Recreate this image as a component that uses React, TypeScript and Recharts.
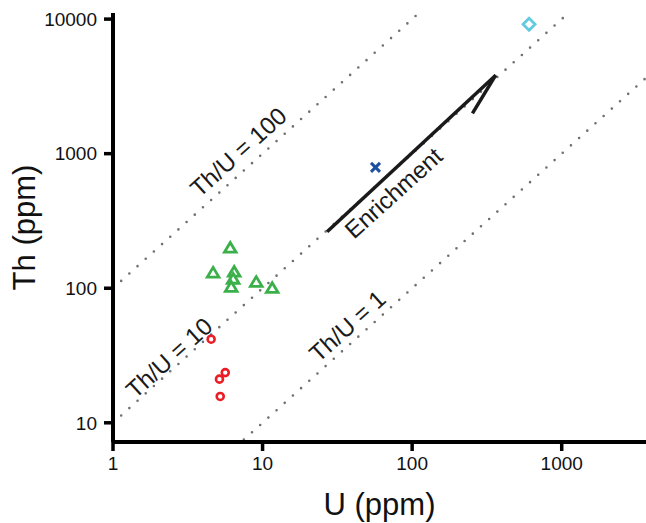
import {
  Label,
  ReferenceDot,
  ReferenceLine,
  Scatter,
  ScatterChart,
  XAxis,
  YAxis,
} from "recharts";

const FONT = "'Liberation Sans', Arial, Helvetica, sans-serif";

// axis setup
const uDomain = [1, 3660];
const thDomain = [7.2, 11100];
const uTicks = [1, 10, 100, 1000];
const thTicks = [10, 100, 1000, 10000];

// samples
const redU = [4.53, 5.63, 5.15, 5.21];
const redTh = [41.8, 23.6, 21.1, 15.7];
const greenU = [6.08, 4.67, 6.46, 6.36, 6.17, 9.07, 11.6];
const greenTh = [199, 130, 132, 117, 102, 111, 100];
const blueU = [56.9];
const blueTh = [791];
const cyanU = [605];
const cyanTh = [9160];

// Th/U ratio guide lines
const ratios = [100, 10, 1];

// enrichment arrow: start, tip, barb
const arrowU = [27, 362, 253];
const arrowTh = [263, 3830, 1990];

// annotations along the guides
const noteText = ["Th/U = 100", "Th/U = 10", "Th/U = 1", "Enrichment"];
const noteU = [6.88, 2.37, 36.9, 75];
const noteTh = [1028, 30.4, 52.5, 511];

const toPoints = (us: number[], ths: number[]) =>
  us.map((u, i) => ({ u, th: ths[i] }));

const circle = (p: any) => (
  <circle cx={p.cx} cy={p.cy} r={3.5} fill="#fff" stroke="#ec1c24" strokeWidth={2.6} />
);

const triangle = (p: any) => {
  const { cx, cy } = p;
  return (
    <polygon
      points={`${cx},${cy - 5.5} ${cx + 5.8},${cy + 4.2} ${cx - 5.8},${cy + 4.2}`}
      fill="#fff"
      stroke="#3bb04a"
      strokeWidth={2.8}
    />
  );
};

const cross = (p: any) => {
  const { cx, cy } = p;
  const s = 4.5;
  return (
    <g stroke="#1f4fa0" strokeWidth={3}>
      <line x1={cx - s} y1={cy - s} x2={cx + s} y2={cy + s} />
      <line x1={cx - s} y1={cy + s} x2={cx + s} y2={cy - s} />
    </g>
  );
};

const diamond = (p: any) => {
  const { cx, cy } = p;
  const s = 6;
  return (
    <polygon
      points={`${cx},${cy - s} ${cx + s},${cy} ${cx},${cy + s} ${cx - s},${cy}`}
      fill="#fff"
      stroke="#62cbe0"
      strokeWidth={2.8}
    />
  );
};

const note = (text: string) => (p: any) => (
  <text
    x={p.cx}
    y={p.cy}
    transform={`rotate(-42 ${p.cx} ${p.cy})`}
    textAnchor="middle"
    dominantBaseline="central"
    fontFamily={FONT}
    fontSize={24}
    fill="#1a1a1a"
  >
    {text}
  </text>
);

export default function App() {
  const axisLine = { stroke: "#000", strokeWidth: 4 };
  const tickLine = { stroke: "#000", strokeWidth: 3.5 };
  const tickStyle = { fill: "#111", fontSize: 19, fontFamily: FONT };

  return (
    <div style={{ position: "absolute", left: 0, top: 0, background: "#fff" }}>
      <ScatterChart width={646} height={523} margin={{ top: 13, right: 0, bottom: 0, left: 0 }}>
        <XAxis
          xAxisId={0}
          type="number"
          dataKey="u"
          scale="log"
          domain={uDomain}
          ticks={uTicks}
          allowDataOverflow
          height={81}
          axisLine={axisLine}
          tickLine={tickLine}
          tickSize={9}
          tickMargin={6}
          tick={tickStyle}
        >
          <Label
            value="U (ppm)"
            position="insideBottom"
            offset={8}
            style={{ fontSize: 31, fontFamily: FONT, fill: "#111" }}
          />
        </XAxis>
        <XAxis
          xAxisId="top"
          orientation="top"
          type="number"
          scale="log"
          domain={uDomain}
          allowDataOverflow
          height={0}
          tick={false}
          tickLine={false}
          axisLine={{ stroke: "#000", strokeWidth: 3.5 }}
        />
        <YAxis
          type="number"
          dataKey="th"
          scale="log"
          domain={thDomain}
          ticks={thTicks}
          allowDataOverflow
          width={113}
          axisLine={axisLine}
          tickLine={tickLine}
          tickSize={9}
          tickMargin={7}
          tick={tickStyle}
        >
          <Label
            value="Th (ppm)"
            angle={-90}
            position="insideLeft"
            offset={24}
            style={{ fontSize: 31, fontFamily: FONT, fill: "#111", textAnchor: "middle" }}
          />
        </YAxis>

        {ratios.map((r) => (
          <ReferenceLine
            key={r}
            segment={[
              { x: uDomain[0], y: r * uDomain[0] },
              { x: uDomain[1], y: r * uDomain[1] },
            ]}
            ifOverflow="hidden"
            stroke="#707070"
            strokeWidth={2.6}
            strokeDasharray="0 11"
            strokeLinecap="round"
          />
        ))}

        <ReferenceLine
          segment={[
            { x: arrowU[0], y: arrowTh[0] },
            { x: arrowU[1], y: arrowTh[1] },
          ]}
          stroke="#1a1a1a"
          strokeWidth={3.5}
        />
        <ReferenceLine
          segment={[
            { x: arrowU[1], y: arrowTh[1] },
            { x: arrowU[2], y: arrowTh[2] },
          ]}
          stroke="#1a1a1a"
          strokeWidth={3.5}
        />

        {noteText.map((t, i) => (
          <ReferenceDot key={t} x={noteU[i]} y={noteTh[i]} shape={note(t)} />
        ))}

        <Scatter data={toPoints(redU, redTh)} shape={circle} isAnimationActive={false} />
        <Scatter data={toPoints(greenU, greenTh)} shape={triangle} isAnimationActive={false} />
        <Scatter data={toPoints(blueU, blueTh)} shape={cross} isAnimationActive={false} />
        <Scatter data={toPoints(cyanU, cyanTh)} shape={diamond} isAnimationActive={false} />
      </ScatterChart>
    </div>
  );
}
